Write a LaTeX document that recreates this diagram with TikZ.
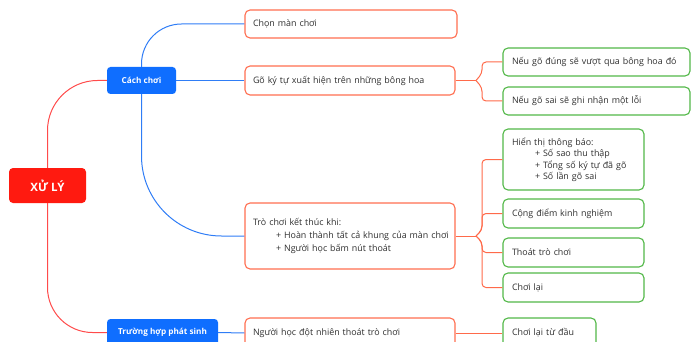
\documentclass[tikz,border=0pt]{standalone}
\usepackage{fontspec}
\setmainfont{Open Sans}
\usetikzlibrary{calc}
\definecolor{rootred}{HTML}{FF1A10}
\definecolor{mainblue}{HTML}{0F6EFF}
\definecolor{linered}{HTML}{FF4B4B}
\definecolor{lineblue}{HTML}{2F7DF6}
\definecolor{lineorange}{HTML}{FF6A4A}
\definecolor{boxorange}{HTML}{FF6E50}
\definecolor{boxgreen}{HTML}{52B848}
\definecolor{txt}{HTML}{303030}
\begin{document}
\begin{tikzpicture}[x=1pt,y=-1pt,
  rootbox/.style={fill=rootred,text=white,rounded corners=4pt,font=\bfseries\fontsize{11.5}{13}\selectfont,
    minimum width=77pt,minimum height=35pt,inner sep=0pt},
  topicbox/.style={fill=mainblue,text=white,rounded corners=3.5pt,font=\bfseries\fontsize{8.2}{9}\selectfont,
    minimum height=27pt,inner sep=0pt},
  orbox/.style={draw=boxorange,line width=1.1pt,fill=white,rounded corners=5pt,text=txt,
    font=\fontsize{8.9}{13}\selectfont,align=left,inner xsep=8pt,inner ysep=0pt},
  grbox/.style={draw=boxgreen,line width=1.1pt,fill=white,rounded corners=5pt,text=txt,
    font=\fontsize{8.9}{11.5}\selectfont,align=left,inner xsep=9pt,inner ysep=0pt},
  redline/.style={draw=linered,line width=1pt},
  blueline/.style={draw=lineblue,line width=1pt},
  orline/.style={draw=lineorange,line width=1pt}]
\useasboundingbox (0,0) rectangle (693,342);

% central node and main topics
\node[rootbox] (root) at (47.5,185.5) {XỬ LÝ};
\node[topicbox,minimum width=69pt] (cach) at (141.5,80.5) {Cách chơi};
\node[topicbox,minimum width=111pt] (truong) at (162.5,332.5) {Trường hợp phát sinh};

% second level
\node[orbox,text width=196pt,minimum height=28pt] (chon) at (351,24) {Chọn màn chơi};
\node[orbox,text width=194pt,minimum height=29pt] (go) at (350,80.5) {Gõ ký tự xuất hiện trên những bông hoa};
\node[orbox,text width=194pt,minimum height=66pt] (tro) at (350,236)
  {Trò chơi kết thúc khi:\\\hspace*{23pt}\mbox{+ Hoàn thành tất cả khung của màn chơi}\\\hspace*{23pt}+ Người học bấm nút thoát};
\node[orbox,text width=194pt,minimum height=30pt] (nguoi) at (350,333) {Người học đột nhiên thoát trò chơi};

% third level
\node[grbox,text width=169pt,minimum height=28pt] (dung) at (596.5,62) {Nếu gõ đúng sẽ vượt qua bông hoa đó};
\node[grbox,text width=169pt,minimum height=28pt] (sai) at (596.5,101) {Nếu gõ sai sẽ ghi nhận một lỗi};
\node[grbox,text width=123pt,minimum height=61pt] (hien) at (573.5,159.5)
  {Hiển thị thông báo:\\\hspace*{23pt}+ Số sao thu thập\\\hspace*{23pt}+ Tổng số ký tự đã gõ\\\hspace*{23pt}+ Số lần gõ sai};
\node[grbox,text width=123pt,minimum height=29pt] (cong) at (573.5,213.5) {Cộng điểm kinh nghiệm};
\node[grbox,text width=123pt,minimum height=29pt] (thoat) at (573.5,252.5) {Thoát trò chơi};
\node[grbox,text width=123pt,minimum height=29pt] (lai) at (573.5,287.5) {Chơi lại};
\node[grbox,text width=75pt,minimum height=30pt] (tudau) at (549.5,333) {Chơi lại từ đầu};

% connectors from the centre
\draw[redline,rounded corners=50pt] (root.north) |- (cach.west);
\draw[redline,rounded corners=45pt] (root.south) |- (truong.west);

% connectors from the main topics
\draw[blueline,rounded corners=40pt] (cach.north) |- (chon.west);
\draw[blueline] (cach.east) -- (go.west);
\draw[blueline,rounded corners=80pt] (cach.south) |- (tro.west);
\draw[blueline] (truong.east) -- (nguoi.west);

% bracket junctions
\coordinate (j1) at (476,80.5);
\coordinate (j2) at (476,236);
\draw[orline] (go.east) -- (j1);
\draw[orline,rounded corners=4pt] (j1) -- ($(j1)+(6,-7)$) |- (dung.west);
\draw[orline,rounded corners=4pt] (j1) -- ($(j1)+(6,7)$) |- (sai.west);
\draw[orline] (tro.east) -- (j2);
\draw[orline,rounded corners=4pt] (j2) -- ($(j2)+(6,-6)$) |- (hien.west);
\draw[orline,rounded corners=4pt] (j2) -- ($(j2)+(6,-6)$) |- (cong.west);
\draw[orline,rounded corners=4pt] (j2) -- ($(j2)+(6,6)$) |- (thoat.west);
\draw[orline,rounded corners=4pt] (j2) -- ($(j2)+(6,6)$) |- (lai.west);
\draw[orline] (nguoi.east) -- (tudau.west);
\end{tikzpicture}
\end{document}
